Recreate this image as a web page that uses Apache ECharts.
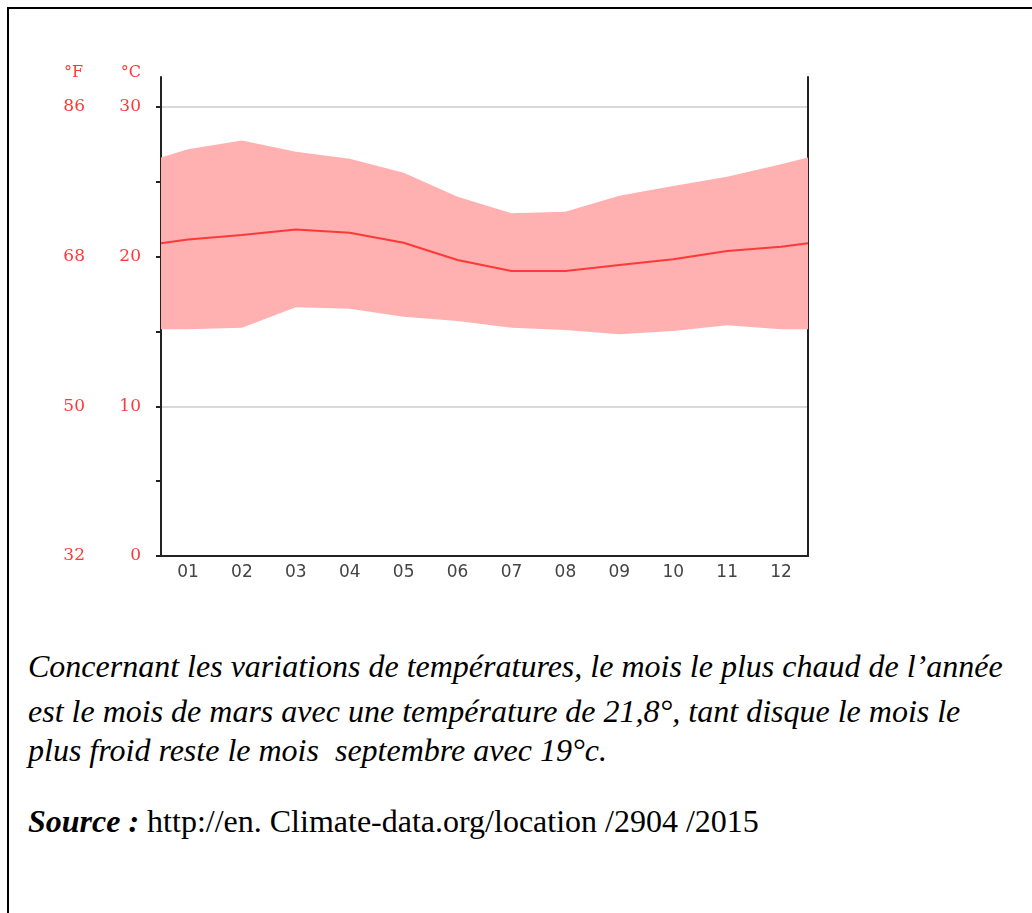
<!DOCTYPE html>
<html>
<head>
<meta charset="utf-8">
<title>Températures</title>
<script src="https://cdn.jsdelivr.net/npm/echarts@6/dist/echarts.min.js"></script>
<style>
	html, body { margin: 0; padding: 0; background: #fff; }
	#page { position: relative; width: 1032px; height: 913px; overflow: hidden; }
	#frame { position: absolute; left: 7px; top: 7px; right: -10px; bottom: -10px; border-left: 2px solid #000; border-top: 2px solid #000; }
	#chart { position: absolute; left: 0; top: 0; width: 1032px; height: 620px; }
	.txt { position: absolute; left: 28px; font-family: 'Liberation Serif', 'Times New Roman', serif; font-size: 32px; line-height: 36px; color: #000; white-space: nowrap; }
	.it { font-style: italic; }
</style>
</head>
<body>
<div id="page">
	<div id="frame"></div>
	<div id="chart"></div>
	<div class="txt it" style="top:648px">Concernant les variations de températures, le mois le plus chaud de l’année</div>
	<div class="txt it" style="top:693px">est le mois de mars avec une température de 21,8°, tant disque le mois le</div>
	<div class="txt it" style="top:732px">plus froid reste le mois&nbsp; septembre avec 19°c.</div>
	<div class="txt" style="top:803px"><b><i>Source :</i></b> http://en. Climate-data.org/location /2904 /2015</div>
</div>
<script>
	// mois
	var months = ['01', '02', '03', '04', '05', '06', '07', '08', '09', '10', '11', '12']
	// température moyenne, max et min (°C)
	var meanTemp = [21.15, 21.44, 21.82, 21.6, 20.93, 19.77, 19.04, 19.04, 19.44, 19.82, 20.37, 20.66]
	var maxTemp = [27.17, 27.75, 27.0, 26.54, 25.6, 24.0, 22.9, 23.0, 24.07, 24.72, 25.34, 26.17]
	var minTemp = [15.14, 15.25, 16.61, 16.52, 15.99, 15.7, 15.25, 15.1, 14.81, 15.03, 15.41, 15.14]
	// valeurs aux bords du graphique (début / fin d'année)
	var edgeMean = 20.89
	var edgeMax = 26.63
	var edgeMin = 15.14
	// graduations
	var celsiusTicks = [0, 5, 10, 15, 20, 25, 30]
	var celsiusLabels = [0, 10, 20, 30]
	var gridValues = [10, 20, 30]

	// [valeur, position] : la valeur vient en premier pour que l'empilement se fasse sur y
	function withEdges(arr, edge) {
		var out = [[edge, 0]]
		arr.forEach(function (v, i) { out.push([v, i + 0.5]) })
		out.push([edge, months.length])
		return out
	}

	var meanData = withEdges(meanTemp, edgeMean)
	var minData = withEdges(minTemp, edgeMin)
	var maxData = withEdges(maxTemp, edgeMax)
	var bandData = maxData.map(function (p, i) { return [p[0] - minData[i][0], p[1]] })

	var red = '#ff3838'
	var axisColor = '#222'
	var labelFont = 'DejaVu Serif'

	var chart = echarts.init(document.getElementById('chart'))
	var option = {
		animation: false,
		grid: { left: 161, right: 224, top: 77, height: 479 },
		xAxis: [{
			type: 'category',
			data: months,
			boundaryGap: true,
			axisLine: { lineStyle: { color: axisColor, width: 2 } },
			axisTick: { length: 5, lineStyle: { color: axisColor, width: 2 } },
			axisLabel: { color: '#444', fontFamily: 'DejaVu Sans', fontSize: 17, margin: 8 }
		}, {
			type: 'value',
			min: 0,
			max: months.length,
			show: false
		}],
		yAxis: [{
			type: 'value',
			min: 0,
			max: 32,
			name: '°C',
			nameGap: -4,
			nameTextStyle: { color: red, fontFamily: labelFont, fontSize: 16, align: 'right', padding: [0, 20, 0, 0] },
			axisLine: { show: true, lineStyle: { color: axisColor, width: 2 } },
			axisTick: { show: true, length: 5, customValues: celsiusTicks, lineStyle: { color: axisColor, width: 2 } },
			axisLabel: { customValues: celsiusLabels, color: red, fontFamily: labelFont, fontSize: 17, margin: 20 },
			splitLine: { show: false }
		}, {
			type: 'value',
			min: 0,
			max: 32,
			position: 'left',
			offset: 56,
			name: '°F',
			nameGap: -4,
			nameTextStyle: { color: red, fontFamily: labelFont, fontSize: 16, align: 'right', padding: [0, 22, 0, 0] },
			axisLine: { show: false },
			axisTick: { show: false },
			axisLabel: {
				customValues: celsiusLabels,
				color: red, fontFamily: labelFont, fontSize: 17, margin: 20,
				formatter: function (v) { return Math.round(v * 9 / 5 + 32) }
			},
			splitLine: { show: false }
		}, {
			type: 'value',
			min: 0,
			max: 32,
			position: 'right',
			axisLine: { show: true, lineStyle: { color: axisColor, width: 2 } },
			axisTick: { show: false },
			axisLabel: { show: false },
			splitLine: { show: false }
		}, {
			type: 'value',
			min: 0,
			max: 32,
			position: 'left',
			axisLine: { show: false },
			axisTick: { show: false, customValues: gridValues },
			axisLabel: { show: false },
			splitLine: { show: true, lineStyle: { color: '#ccc', width: 1.5 } }
		}],
		series: [{
			name: 'min',
			type: 'line',
			xAxisIndex: 1,
			encode: { x: 1, y: 0 },
			stack: 'band',
			data: minData,
			showSymbol: false,
			lineStyle: { opacity: 0 },
			silent: true
		}, {
			name: 'max',
			type: 'line',
			xAxisIndex: 1,
			encode: { x: 1, y: 0 },
			stack: 'band',
			data: bandData,
			showSymbol: false,
			lineStyle: { opacity: 0 },
			areaStyle: { color: '#ffb0b0', opacity: 1 },
			silent: true
		}, {
			name: 'moyenne',
			type: 'line',
			xAxisIndex: 1,
			encode: { x: 1, y: 0 },
			data: meanData,
			showSymbol: false,
			lineStyle: { color: red, width: 2 },
			z: 3
		}]
	}
	chart.setOption(option)
</script>
</body>
</html>
